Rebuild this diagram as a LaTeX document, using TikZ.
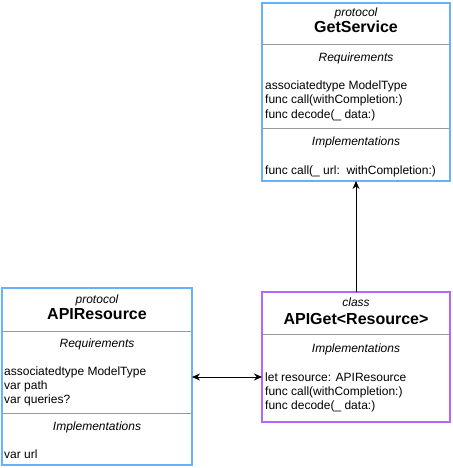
\documentclass[tikz,border=0pt]{standalone}
\usepackage{fontspec}
\setmainfont{Liberation Sans}
\usetikzlibrary{arrows.meta}
\definecolor{boxblue}{HTML}{66B2FF}
\definecolor{boxpurple}{HTML}{B266FF}
\definecolor{divgray}{HTML}{9A9A9A}
\tikzset{
  umlbox/.style={draw, line width=2pt, minimum width=#1, inner sep=0pt, outer sep=0pt},
  divider/.style={draw=divgray, line width=0.9pt},
  txt/.style={anchor=base west, inner sep=0pt, font=\fontsize{12}{14}\selectfont},
  ctxt/.style={anchor=base, inner sep=0pt, font=\fontsize{12}{14}\selectfont\itshape},
  ttl/.style={anchor=base, inner sep=0pt, font=\fontsize{16}{18}\selectfont\bfseries},
  conn/.style={line width=1pt, -{Stealth[length=8pt,width=7pt]}},
  dconn/.style={line width=1pt, {Stealth[length=8pt,width=7pt]}-{Stealth[length=8pt,width=7pt]}}
}
\begin{document}
\begin{tikzpicture}[x=1pt,y=-1pt]
\useasboundingbox (0,0) rectangle (452,468);
% GetService
\node[umlbox=188pt, draw=boxblue, minimum height=178pt] (gs) at (356,92) {};
\draw[divider] (263,44) -- (449,44);
\draw[divider] (263,128) -- (449,128);
\node[ctxt] (gs1) at (356,17) {protocol};
\node[ttl] (gs2) at (356,33) {GetService};
\node[ctxt] (gs3) at (356,62) {Requirements};
\node[txt] (gs4) at (265,90) {associatedtype ModelType};
\node[txt] (gs5) at (265,104) {func call(withCompletion:)};
\node[txt] (gs6) at (265,118) {func decode(\_ data:)};
\node[ctxt] (gs7) at (356,145) {Implementations};
\node[txt] (gs8) at (265,174) {func call(\_ url:\ \ withCompletion:)};
% APIResource
\node[umlbox=190pt, draw=boxblue, minimum height=177pt] (ar) at (97,376.5) {};
\draw[divider] (3,331) -- (191,331);
\draw[divider] (3,413) -- (191,413);
\node[ctxt] (ar1) at (97,303) {protocol};
\node[ttl] (ar2) at (97,319) {APIResource};
\node[ctxt] (ar3) at (97,347) {Requirements};
\node[txt] (ar4) at (4,375) {associatedtype ModelType};
\node[txt] (ar5) at (4,389) {var path};
\node[txt] (ar6) at (4,403) {var queries?};
\node[ctxt] (ar7) at (97,430) {Implementations};
\node[txt] (ar8) at (4,458) {var url};
% APIGet
\node[umlbox=188pt, draw=boxpurple, minimum height=130pt] (ag) at (356,357) {};
\draw[divider] (263,334) -- (449,334);
\node[ctxt] (ag1) at (356,306) {class};
\node[ttl] (ag2) at (356,324) {APIGet<Resource>};
\node[ctxt] (ag3) at (356,352) {Implementations};
\node[txt] (ag4) at (265,381) {let resource: APIResource};
\node[txt] (ag5) at (265,395) {func call(withCompletion:)};
\node[txt] (ag6) at (265,409) {func decode(\_ data:)};
% connectors
\coordinate (mid) at (226,377);
\draw[conn] (ag.north) -- (gs.south);
\draw[dconn] (ar.east |- mid) -- (ag.west |- mid);
\end{tikzpicture}
\end{document}
